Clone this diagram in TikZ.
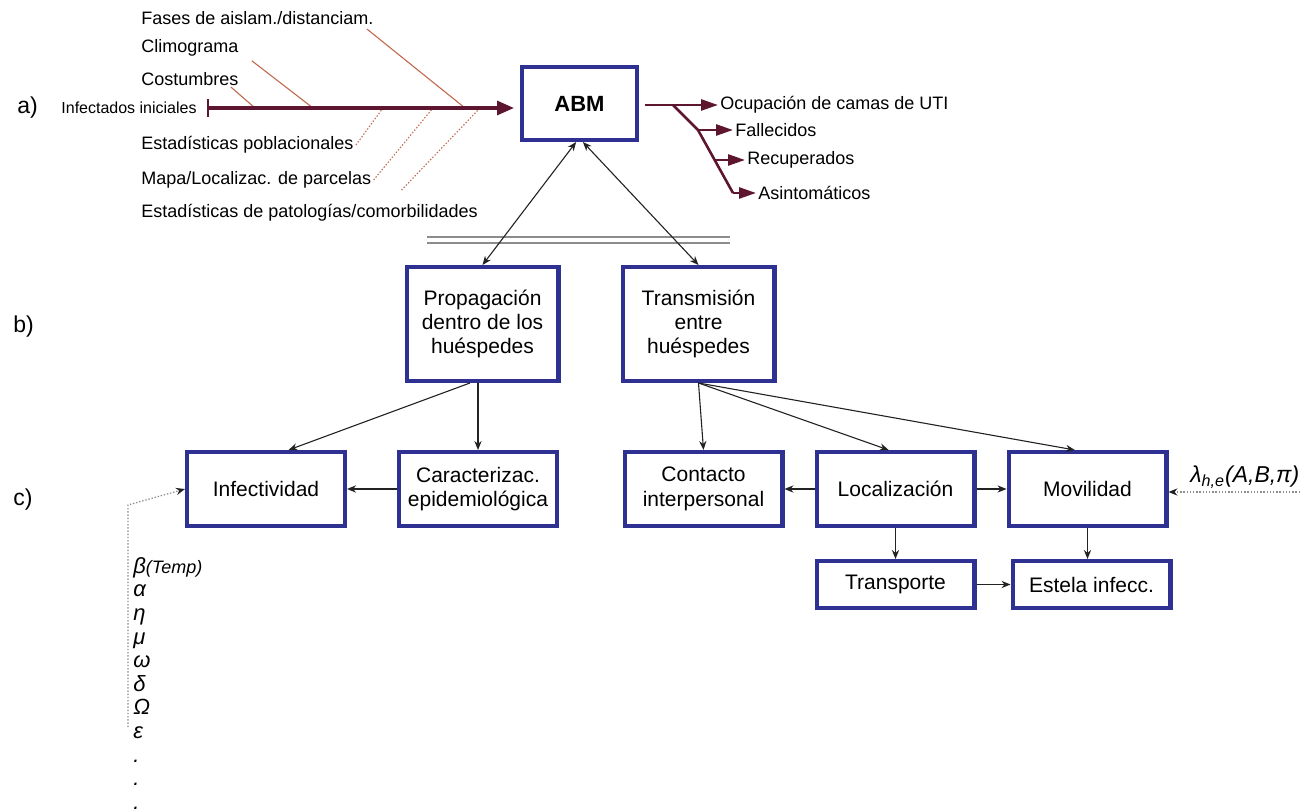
\documentclass[tikz,border=0pt]{standalone}
\usepackage{fontspec}
\setmainfont{Liberation Sans}
\usetikzlibrary{arrows.meta,positioning,calc}
\definecolor{AbmBlue}{HTML}{2E3192}
\definecolor{AbmWine}{HTML}{5E1530}
\definecolor{AbmRust}{HTML}{C0694F}
\definecolor{AbmInk}{HTML}{222222}
\definecolor{AbmGrey}{HTML}{8C8C8C}

\begin{document}
\begin{tikzpicture}[x=0.5pt,y=-0.5pt,>=Stealth]
  \tikzset{
    box/.style={draw=AbmBlue,line width=2.2pt,minimum width=78.8pt,minimum height=36.8pt,
      align=center,inner sep=2pt,font=\fontsize{10.5}{12.2}\selectfont},
    bigbox/.style={box,minimum width=75.8pt,minimum height=56.8pt},
    flatbox/.style={box,minimum height=23.3pt},
    link/.style={-{Stealth[length=4.5pt,width=3.6pt]},line width=.55pt,draw=AbmInk},
    twoway/.style={link,{Stealth[length=4.5pt,width=3.6pt]}-{Stealth[length=4.5pt,width=3.6pt]}},
    spine/.style={{Bar[width=9pt,line width=1.2pt]}-{Triangle[length=8.5pt,width=7pt]},
      line width=1.6pt,draw=AbmWine},
    rib/.style={line width=.55pt,draw=AbmRust},
    softrib/.style={rib,dash pattern=on .7pt off .9pt},
    yield/.style={-{Triangle[length=8.5pt,width=5.5pt]},line width=1.3pt,draw=AbmWine},
    hint/.style={-{Stealth[length=4.5pt,width=3.6pt,color=AbmInk]},line width=.6pt,
      draw=AbmGrey,dash pattern=on .7pt off .9pt},
    tag/.style={anchor=west,inner sep=1pt,font=\fontsize{9}{11}\selectfont},
    part/.style={anchor=west,inner sep=0pt,font=\fontsize{11.5}{13}\selectfont}
  }
  \useasboundingbox (0,0) rectangle (1307,812);

  \node[part] (pa) at (17,108) {a)};
  \node[anchor=east,inner sep=0pt,font=\fontsize{8}{10}\selectfont] (inic) at (197,108) {Infectados iniciales};
  \node[box,minimum width=57.3pt,minimum height=36.3pt,font=\fontsize{11}{13}\selectfont\bfseries]
    (abm) at (579.5,103.5) {ABM};
  \node[tag] (fases) at (139,18) {Fases de aislam./distanciam.};
  \node[tag] (clima) at (139,48) {Climograma};
  \node[tag] (costu) at (139,79) {Costumbres};
  \node[tag] (pobla) at (139,145) {Estadísticas poblacionales};
  \node[tag] (mapa) at (139,180) {Mapa/Localizac. de parcelas};
  \node[tag] (comor) at (139,213) {Estadísticas de patologías/comorbilidades};
  \coordinate (s1) at (255,108);
  \coordinate (s2) at (313,108);
  \coordinate (s3) at (383,108);
  \coordinate (s4) at (433,108);
  \coordinate (s5) at (465,108);
  \coordinate (s6) at (480,108);
  \draw[rib] ($(costu.south east)+(-10,-1)$) -- (s1);
  \draw[rib] ($(clima.south east)+(11,2)$) -- (s2);
  \draw[rib] ($(fases.south east)+(-9,2)$) -- (s5);
  \draw[softrib] (pobla.east) -- (s3);
  \draw[softrib] (mapa.east) -- (s4);
  \draw[softrib] ($(comor.north)+(92,-12)$) -- (s6);
  \draw[spine,shorten <=5pt,shorten >=3pt] (inic.east) -- (inic.east -| abm.west);

  \node[tag] (ocup) at (718,105) {Ocupación de camas de UTI};
  \node[tag] (falle) at (733,130) {Fallecidos};
  \node[tag] (recup) at (745,160) {Recuperados};
  \node[tag] (asint) at (756,193) {Asintomáticos};
  \coordinate (o1) at (673,105);
  \coordinate (o2) at (698,130);
  \coordinate (o3) at (714,160);
  \coordinate (o4) at (733,193);
  \draw[yield,shorten <=3pt] (abm.east |- ocup.west) -- (ocup.west);
  \draw[line width=1.3pt,draw=AbmWine] (o1) -- (o2) -- (o4);
  \draw[yield] (o2) -- (falle.west);
  \draw[yield] (o3) -- (recup.west);
  \draw[yield] (o4) -- (asint.west);

  \draw[AbmGrey,line width=.6pt] (427,237) -- (730,237);
  \draw[AbmGrey,line width=.6pt] (427,243) -- (730,243);

  \node[part] (pb) at (13,327) {b)};
  \node[bigbox] (prop) at (482.5,324) {Propagación\\dentro de los\\huéspedes};
  \node[bigbox,right=30pt of prop] (trans) {Transmisión\\entre\\huéspedes};
  \draw[twoway] (abm.265) -- (prop.north);
  \draw[twoway] (abm.275) -- (trans.north);

  \node[part] (pc) at (13,500) {c)};
  \node[box] (infec) at (266,489) {Infectividad};
  \node[box,right=25pt of infec] (carac) {Caracterizac.\\epidemiológica};
  \node[box] (conta) at (703.5,489) {Contacto\\interpersonal};
  \node[box,right=15pt of conta] (local) {Localización};
  \node[box,right=15pt of local] (movil) {Movilidad};
  \node[flatbox,below=15.5pt of local] (trasp) {Transporte};
  \node[flatbox,right=17pt of trasp] (estela) {Estela infecc.};
  \draw[link] (prop.258) -- (infec.60);
  \draw[link] (prop.south -| carac.north) -- (carac.north);
  \draw[link] (carac) -- (infec);
  \draw[link] (trans.south) -- (conta.north);
  \draw[link] (trans.south) -- (local.100);
  \draw[link] (trans.south) -- (movil.108);
  \draw[link] (local) -- (conta);
  \draw[link] (local) -- (movil);
  \draw[link] (local.south) -- (local.south |- trasp.north);
  \draw[link] (movil.south) -- (movil.south |- estela.north);
  \draw[link] (trasp) -- (estela);

  \node[anchor=north west,inner sep=0pt,align=left,font=\fontsize{11}{11.8}\selectfont\itshape]
    (param) at (133,557) {β{\fontsize{9}{10}\selectfont(Temp)}\\α\\η\\μ\\ω\\δ\\Ω\\ε\\.\\.\\.};
  \coordinate (pbot) at (128,727);
  \coordinate (pknee) at (128,505);
  \draw[hint] (pbot) -- (pknee) -- (infec.west);

  \node[anchor=base west,inner sep=0pt,font=\fontsize{11.5}{13}\selectfont\itshape]
    (lam) at (1190,483) {λ\textsubscript{h,e}(A,B,π)};
  \coordinate (lamend) at (1300,492);
  \draw[hint] (lamend) -- (movil.east |- lamend);
\end{tikzpicture}
\end{document}
